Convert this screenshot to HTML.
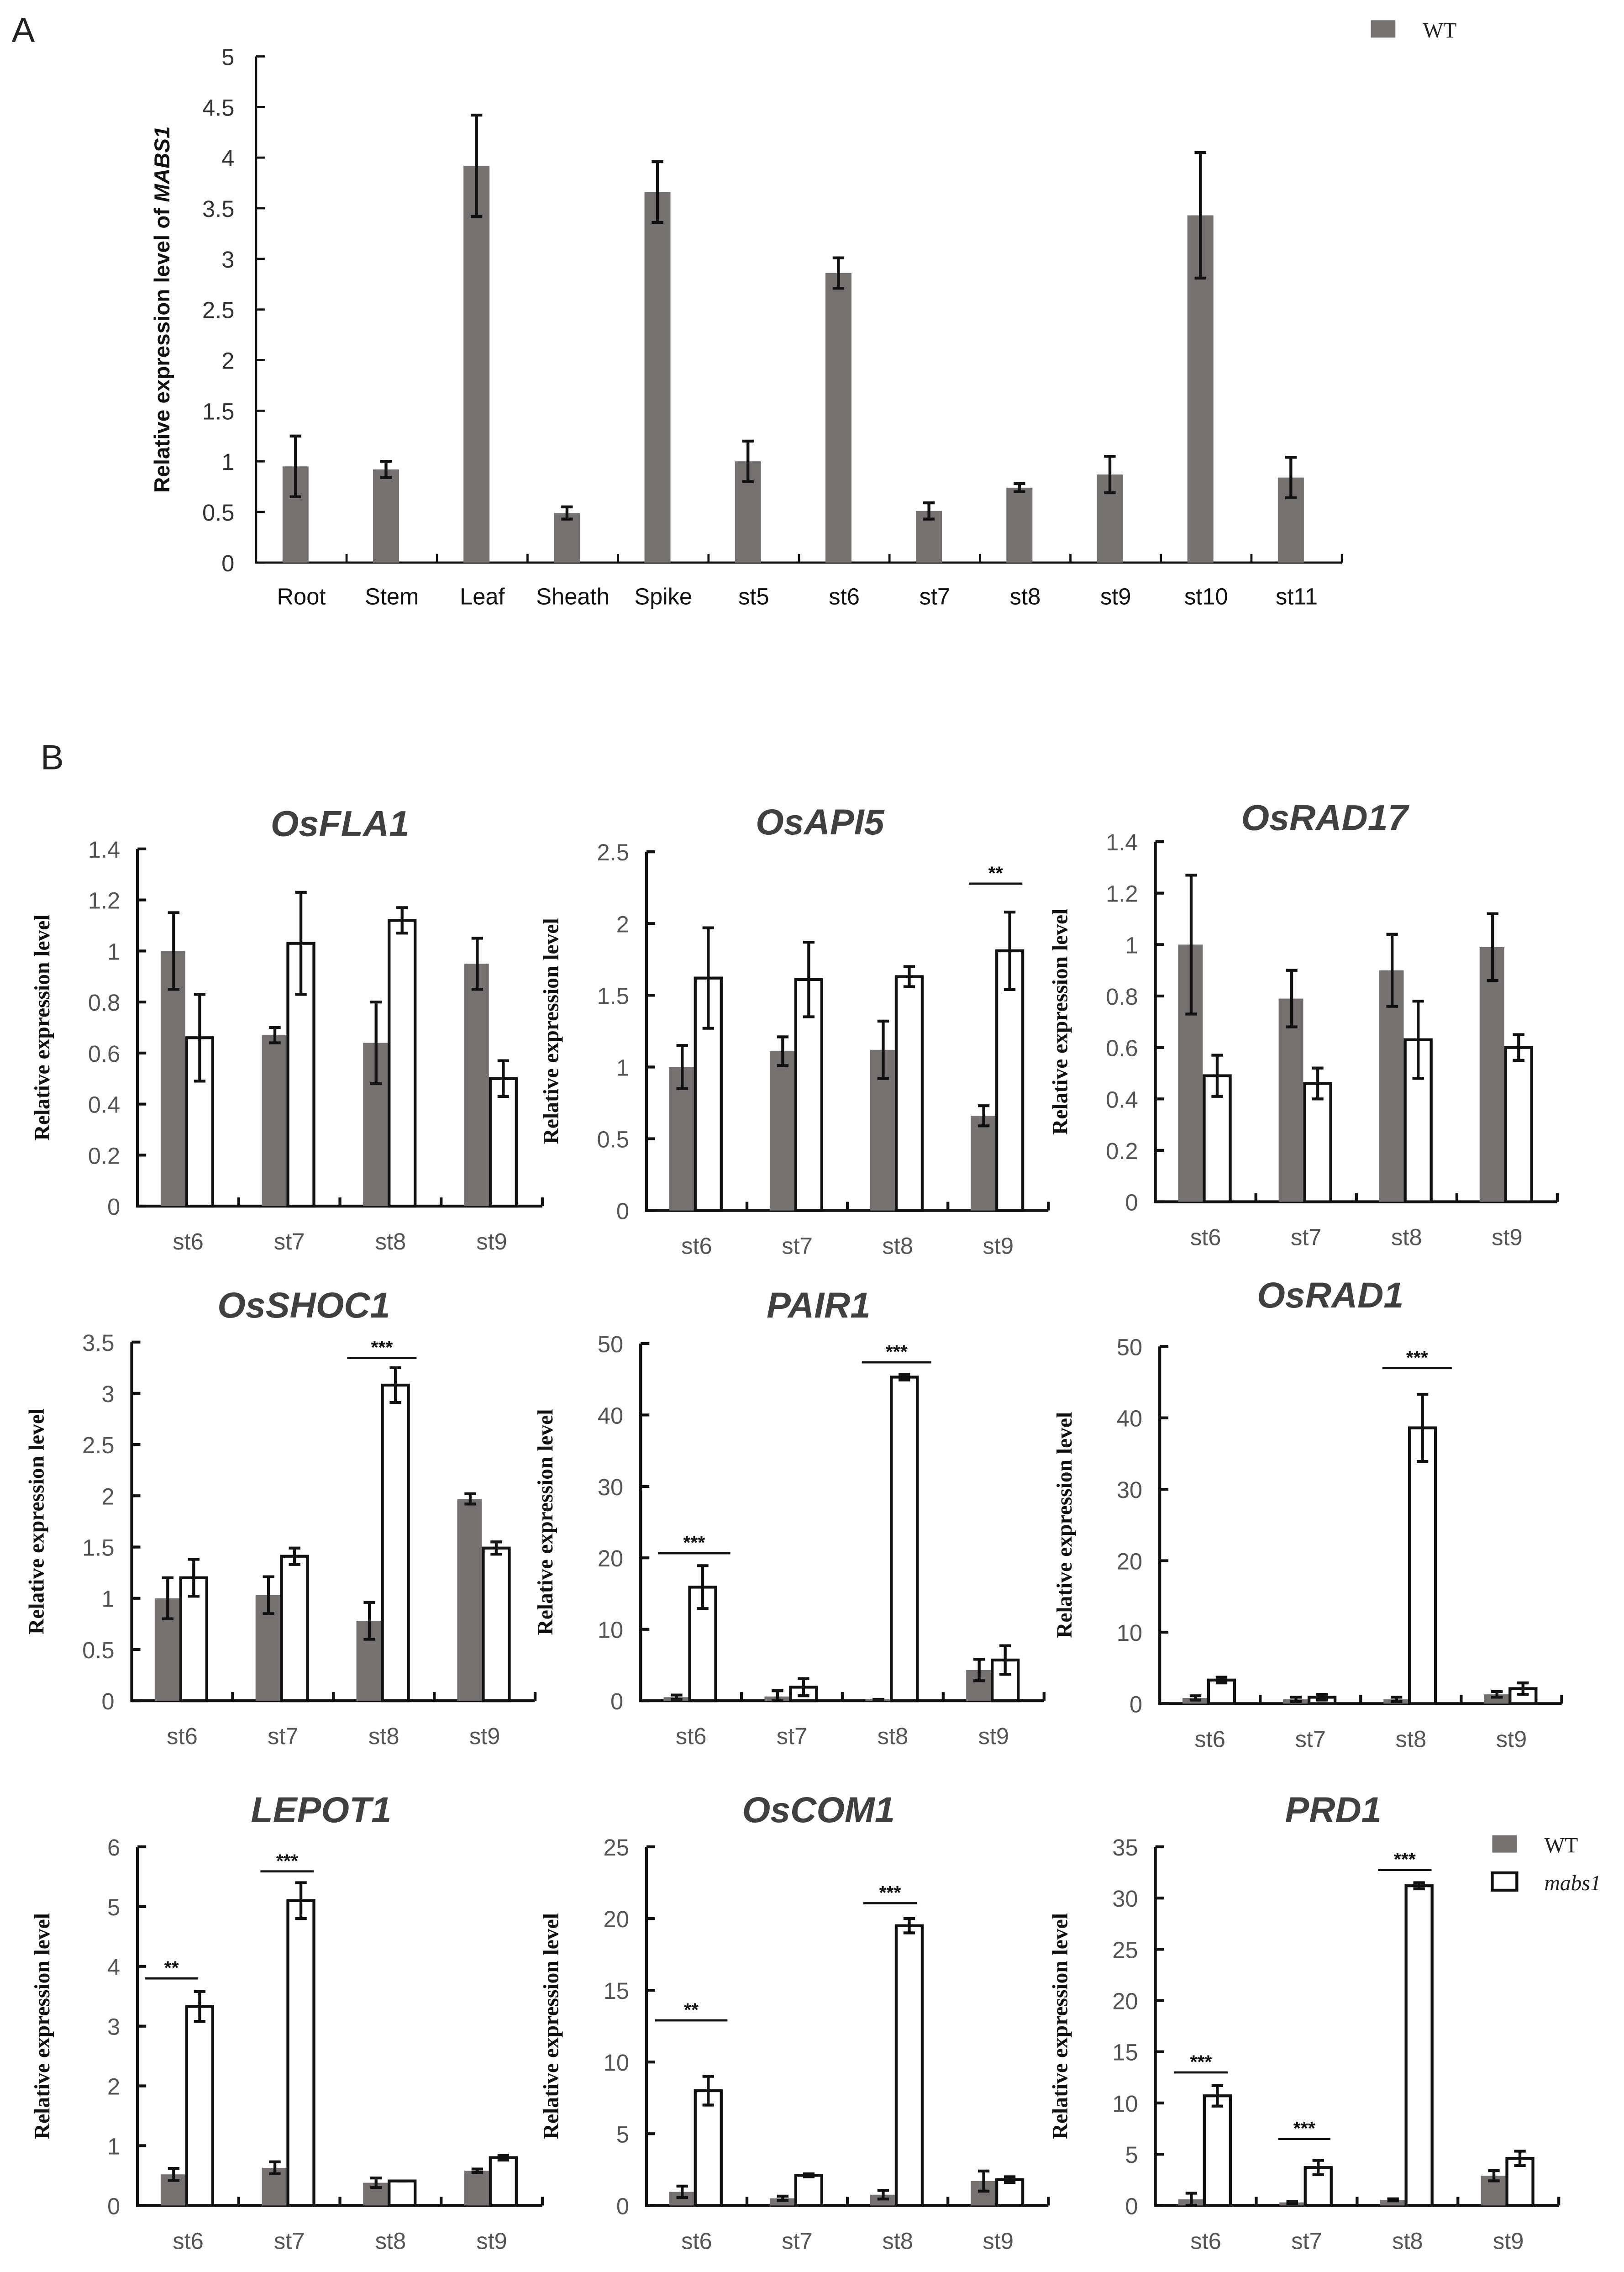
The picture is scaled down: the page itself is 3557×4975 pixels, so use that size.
<!DOCTYPE html>
<html><head><meta charset="utf-8"><style>
html,body{margin:0;padding:0;background:#fff}
svg{display:block}
</style></head><body>
<svg id="fig" xmlns="http://www.w3.org/2000/svg" width="3557" height="4975" viewBox="0 0 1123 1571" font-family="Liberation Sans, sans-serif">
<rect width="1123" height="1571" fill="#fff"/>
<text x="8" y="29" font-size="24" fill="#222">A</text>
<text x="28" y="532" font-size="24" fill="#222">B</text>
<g id="ga"></g>
<g id="gb"></g>
</svg>
<script>
const NS='http://www.w3.org/2000/svg';
// Panel A data
const aCats=['Root','Stem','Leaf','Sheath','Spike','st5','st6','st7','st8','st9','st10','st11'];
const aVals=[0.95,0.92,3.92,0.49,3.66,1.0,2.86,0.51,0.74,0.87,3.43,0.84];
const aErrs=[0.3,0.08,0.5,0.06,0.3,0.2,0.15,0.08,0.04,0.18,0.62,0.2];
const aTicks=[0,0.5,1,1.5,2,2.5,3,3.5,4,4.5,5];
// Panel B data
const bTitles=['OsFLA1','OsAPI5','OsRAD17','OsSHOC1','PAIR1','OsRAD1','LEPOT1','OsCOM1','PRD1'];
const bCats=['st6','st7','st8','st9'];
const bMax=[1.4,2.5,1.4,3.5,50,50,6,25,35];
const bStep=[0.2,0.5,0.2,0.5,10,10,1,5,5];
const wtVals=[[1.0,0.67,0.64,0.95],[1.0,1.11,1.12,0.66],[1.0,0.79,0.9,0.99],[1.0,1.03,0.78,1.97],[0.5,0.6,0.2,4.3],[0.8,0.6,0.6,1.3],[0.52,0.63,0.38,0.58],[0.95,0.5,0.75,1.7],[0.6,0.3,0.55,2.9]];
const wtErrs=[[0.15,0.03,0.16,0.1],[0.15,0.1,0.2,0.07],[0.27,0.11,0.14,0.13],[0.2,0.18,0.18,0.05],[0.3,0.8,0,1.5],[0.3,0.3,0.3,0.4],[0.1,0.1,0.08,0.03],[0.4,0.15,0.3,0.7],[0.6,0.1,0.1,0.5]];
const mVals=[[0.66,1.03,1.12,0.5],[1.62,1.61,1.63,1.81],[0.49,0.46,0.63,0.6],[1.2,1.41,3.08,1.49],[15.9,1.9,45.3,5.7],[3.3,0.9,38.6,2.1],[3.33,5.1,0.41,0.8],[8.0,2.1,19.5,1.8],[10.7,3.7,31.2,4.6]];
const mErrs=[[0.17,0.2,0.05,0.07],[0.35,0.26,0.07,0.27],[0.08,0.06,0.15,0.05],[0.18,0.08,0.17,0.06],[3,1.2,0.4,2],[0.4,0.4,4.7,0.8],[0.25,0.3,0,0.04],[1,0.1,0.5,0.2],[1,0.7,0.3,0.7]];
const sigs=[[],[[3,'**']],[],[[2,'***']],[[0,'***'],[2,'***']],[[2,'***']],[[0,'**'],[1,'***']],[[0,'**'],[2,'***']],[[0,'***'],[1,'***'],[2,'***']]];

// layout (pixels, not data)
const sigPix=[[],[[611,670,707]],[],[[939,240,288]],[[1074,455,505],[942,596,644]],[[946,956,1004]],[[1368,100,137],[1294,180,217]],[[1397,453,503],[1316,597,634]],[[1433,812,849],[1479,884,920],[1293,953,990]]];
const layout=[[95,375,834,587,235,578],[447,725,837,589,567,577],[799,1077,831,582,916,574],
[91,370,1176,928,210,911],[443,722,1176,929,566,911],[802,1080,1178,931,920,904],
[95,375,1525,1277,222,1260],[447,725,1525,1277,566,1260],[799,1078,1525,1277,922,1260]];

function el(p,tag,at,txt){const e=document.createElementNS(NS,tag);for(const k in at)e.setAttribute(k,at[k]);if(txt!==undefined)e.textContent=txt;p.appendChild(e);return e;}

// Panel A
(function(){
const g=document.getElementById('ga');
const L=177,R=928,Y0=389,Y1=39,max=5;
const y=v=>Y0-(v/max)*(Y0-Y1);
const step=(R-L)/aCats.length;
const xc=i=>L+step*(i+0.5)-4;
const ax=el(g,'path',{d:`M${L} ${Y1}V${Y0}H${R}`,stroke:'#111','stroke-width':1.5,fill:'none'});

aTicks.forEach(t=>{
 const tk=el(g,'line',{x1:L,x2:L+6,y1:y(t),y2:y(t),stroke:'#111','stroke-width':1.5});
 
 const lb=el(g,'text',{x:162,y:y(t)+6,'text-anchor':'end','font-size':16,fill:'#333'},String(t));
 
});
for(let i=1;i<=aCats.length;i++){const x=L+step*i;const tk=el(g,'line',{x1:x,x2:x,y1:Y0,y2:Y0-6,stroke:'#111','stroke-width':1.5});}
aCats.forEach((c,i)=>{
 const b=el(g,'rect',{x:xc(i)-9,y:y(aVals[i]),width:18,height:Y0-y(aVals[i]),fill:'#757171'});
 
 const hi=y(aVals[i]+aErrs[i]),lo=y(aVals[i]-aErrs[i]);
 const e=el(g,'path',{d:`M${xc(i)} ${hi}V${lo}M${xc(i)-4} ${hi}h8M${xc(i)-4} ${lo}h8`,stroke:'#111','stroke-width':2,fill:'none'});
 
 const t=el(g,'text',{x:xc(i)+4,y:418,'text-anchor':'middle','font-size':16,fill:'#111'},c);
 
});
const yt=el(g,'text',{transform:'translate(117,214) rotate(-90)','text-anchor':'middle','font-size':15,'font-weight':'bold',fill:'#111'});

el(yt,'tspan',{},'Relative expression level of ');el(yt,'tspan',{'font-style':'italic'},'MABS1');
const lg=el(g,'rect',{x:948,y:14,width:17,height:12,fill:'#757171'});
const lt=el(g,'text',{x:984,y:26,'font-size':15,'font-family':'Liberation Serif, serif',fill:'#222'},'WT');
})();

// Panel B
(function(){
const G=document.getElementById('gb');
bTitles.forEach((title,k)=>{
 const [L,R,Y0,Y1,tx,ty]=layout[k];
 const g=el(G,'g',{});
 
 const y=v=>Y0-(v/bMax[k])*(Y0-Y1);
 const step=(R-L)/4;
 const xc=i=>L+step*(i+0.5);
 const tt=el(g,'text',{x:tx,y:ty,'text-anchor':'middle','font-size':25,'font-weight':'bold','font-style':'italic',fill:'#404040'},title);
 
 const ax=el(g,'path',{d:`M${L} ${Y1}V${Y0}H${R}`,stroke:'#111','stroke-width':2,fill:'none'});
 
 const n=Math.round(bMax[k]/bStep[k]);
 for(let j=0;j<=n;j++){
  const v=+(j*bStep[k]).toFixed(2);
  const tk=el(g,'line',{x1:L,x2:L+6,y1:y(v),y2:y(v),stroke:'#111','stroke-width':2});
  
  const lb=el(g,'text',{x:L-12,y:y(v)+6,'text-anchor':'end','font-size':16,fill:'#555'},String(v));
  
 }
 for(let i=1;i<=4;i++){const x=L+step*i;const tk=el(g,'line',{x1:x,x2:x,y1:Y0,y2:Y0-6,stroke:'#111','stroke-width':2});}
 const yt=el(g,'text',{transform:`translate(${L-61},${(Y0+Y1)/2}) rotate(-90)`,'text-anchor':'middle','font-size':15,'font-weight':'bold','font-family':'Liberation Serif, serif',fill:'#111'},'Relative expression level');
 
 bCats.forEach((c,i)=>{
  const cx=xc(i);
  const wb=el(g,'rect',{x:cx-19,y:y(wtVals[k][i]),width:17,height:Y0-y(wtVals[k][i]),fill:'#757171'});
  
  const mb=el(g,'rect',{x:cx-1,y:y(mVals[k][i]),width:18,height:Y0-y(mVals[k][i]),fill:'#fff',stroke:'#111','stroke-width':2});
  
  [[cx-10,wtVals[k][i],wtErrs[k][i]],[cx+8,mVals[k][i],mErrs[k][i]]].forEach(([x,v,e])=>{
   const hi=y(v+e),lo=y(Math.max(0,v-e));
   const p=el(g,'path',{d:`M${x} ${hi}V${lo}M${x-4} ${hi}h8M${x-4} ${lo}h8`,stroke:'#111','stroke-width':2,fill:'none'});
   
  });
  const t=el(g,'text',{x:cx,y:Y0+30,'text-anchor':'middle','font-size':16,fill:'#555'},c);
  
 });
 sigs[k].forEach(([i,s],m)=>{
  const [ly,x1,x2]=sigPix[k][m];
  const ln=el(g,'line',{x1:x1,x2:x2,y1:ly,y2:ly,stroke:'#111','stroke-width':1.5});
  
  const st=el(g,'text',{x:(x1+x2)/2,y:ly-3,'text-anchor':'middle','font-size':13,'font-weight':'bold',fill:'#111'},s);
  
 });
});
const r1=el(G,'rect',{x:1032,y:1269,width:17,height:12,fill:'#757171'});
const t1=el(G,'text',{x:1068,y:1281,'font-size':15,'font-family':'Liberation Serif, serif',fill:'#222'},'WT');
const r2=el(G,'rect',{x:1032,y:1295,width:17,height:12,fill:'#fff',stroke:'#111','stroke-width':2});
const t2=el(G,'text',{x:1068,y:1307,'font-size':15,'font-style':'italic','font-family':'Liberation Serif, serif',fill:'#222'},'mabs1');
})();
</script>
</body></html>
